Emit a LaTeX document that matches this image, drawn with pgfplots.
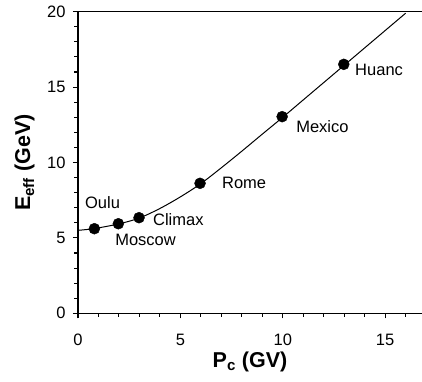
\documentclass[border=0pt]{standalone}
\usepackage{pgfplots}
\pgfplotsset{compat=1.18}
\usepackage{fontspec}
\setmainfont{Liberation Sans}
\begin{document}
\begin{tikzpicture}
\begin{axis}[
  scale only axis,
  width=344bp, height=301.6bp,
  xmin=0, xmax=16.8, ymin=0, ymax=20,
  axis x line*=bottom, axis y line*=left,
  axis line style={line width=1.2pt, -},
  xtick={0,5,10,15}, ytick={0,5,10,15,20},
  minor xtick={1,2,3,4,6,7,8,9,11,12,13,14,16},
  minor ytick={1,2,3,4,6,7,8,9,11,12,13,14,16,17,18,19},
  tick align=outside,
  major tick length=5bp, minor tick length=3.5bp,
  tick style={line width=1.1pt, black},
  /pgf/number format/assume math mode=true,
  tick label style={font=\fontsize{16.5bp}{19bp}\selectfont},
  xticklabel style={yshift=-12bp},
  yticklabel style={xshift=-4bp},
  xlabel={\textbf{P\textsubscript{c} (GV)}},
  ylabel={\textbf{E\textsubscript{eff} (GeV)}},
  label style={font=\fontsize{21.5bp}{24bp}\selectfont},
  xlabel style={at={(axis description cs:0.5,-0.161)}, anchor=center},
  ylabel style={at={(axis description cs:-0.155,0.5)}, anchor=center, rotate=0},
  clip=false,
]
\addplot[black, line width=1pt, smooth, no marks] coordinates {
 (0,5.5) (0.8,5.62) (2,5.93) (3,6.32) (4,6.95) (5,7.72) (6,8.6) (7,9.65) (8,10.75) (9,11.88) (10,13.0) (11,14.15) (12,15.3) (13,16.45) (14,17.6) (15,18.75) (16,19.9)
};
\addplot[only marks, mark=*, mark size=5.5bp, black] coordinates {
 (0.8,5.61) (1.97,5.94) (2.98,6.34) (5.96,8.62) (9.97,13.04) (12.98,16.51)
};
\draw[line width=1.2pt] (rel axis cs:0,1) -- (rel axis cs:1,1);
\begin{scope}[every node/.style={anchor=west, inner sep=0pt, font=\fontsize{16.5bp}{19bp}\selectfont}]
\node at (axis cs:0.34,7.35) {Oulu};
\node at (axis cs:1.81,4.86) {Moscow};
\node at (axis cs:3.66,6.19) {Climax};
\node at (axis cs:7.03,8.64) {Rome};
\node at (axis cs:10.65,12.35) {Mexico};
\node at (axis cs:13.53,16.13) {Huanc};
\end{scope}
\end{axis}
\pgfresetboundingbox
\path[use as bounding box] ([xshift=-78bp,yshift=-68.7bp]current axis.south west) rectangle ([yshift=11.7bp]current axis.north east);
\end{tikzpicture}
\end{document}
